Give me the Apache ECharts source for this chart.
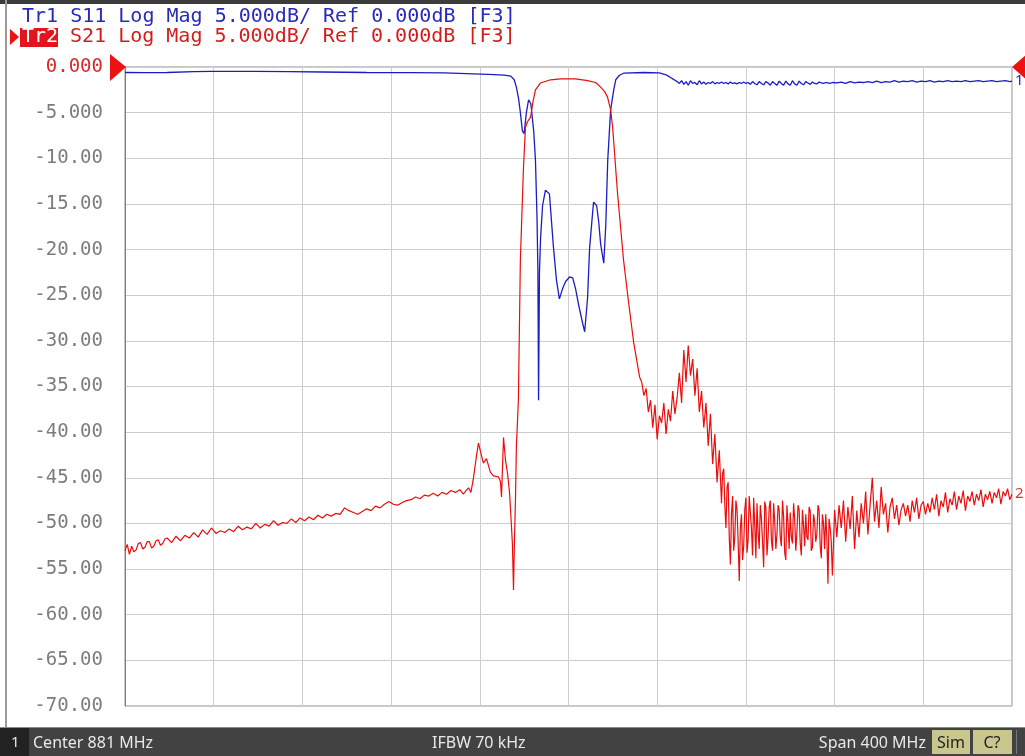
<!DOCTYPE html>
<html>
<head>
<meta charset="utf-8">
<script src="https://cdn.jsdelivr.net/npm/echarts@6/dist/echarts.min.js"></script>
<style>
html,body{margin:0;padding:0;background:#fff;}
#chart{width:1025px;height:756px;}
</style>
</head>
<body>
<div id="chart"></div>
<script>
// ---- Data (frequency MHz, magnitude dB) ----
const centerMHz = 881;
const spanMHz = 400;
const yTicks = [0,-5,-10,-15,-20,-25,-30,-35,-40,-45,-50,-55,-60,-65,-70];

const s11 = [
[681,-0.6],[690,-0.62],[700,-0.6],[712,-0.5],[720,-0.48],[740,-0.47],[755,-0.5],[770,-0.55],[790,-0.6],[810,-0.62],
[825,-0.65],[835,-0.72],[845,-0.8],[852,-0.9],[855,-1.0],[856.5,-1.4],[857.5,-2.2],[858.5,-3.5],[859.3,-5.0],[860.2,-7.0],
[861,-7.3],[862,-5.0],[863,-3.6],[864,-4.0],[865.3,-7.0],[866.1,-10.2],[866.8,-16.5],[867.2,-22.2],[867.5,-36.5],[867.9,-22.5],
[868.4,-18.8],[869.3,-15.2],[870.6,-13.5],[871.5,-13.3],[872.4,-13.9],[874.2,-19.7],[875.6,-23.4],[876.9,-25.4],[878.3,-24.3],[879.7,-23.5],
[881.5,-23.0],[882.9,-23.1],[884.2,-24.3],[885.6,-26.1],[887.4,-28.1],[888.3,-29.0],[889.6,-25.3],[890.5,-19.9],[891.9,-15.9],[892.3,-14.8],
[893.7,-15.2],[894.6,-16.9],[895.5,-19.4],[896.9,-21.5],[897.8,-17.4],[898.7,-10.2],[900,-4.7],[901.4,-2.5],[902.3,-1.4],[904,-0.9],
[906,-0.66],[915,-0.6],[922,-0.65],[925,-0.85],[926,-1.0],[927,-1.15],[928,-1.3],[929,-1.45],
[930,-1.6],[931,-1.8],[932,-1.5],[933,-1.9],[934,-1.6],[935,-2.0],[936,-1.5],[937,-1.8],[938,-1.7],[939,-1.95],
[940,-1.5],[941,-1.85],[942,-1.65],[943,-1.9],[944,-1.7],[945,-1.8],[946,-1.6],[947,-1.85],[948,-1.7],[949,-1.8],
[950,-1.65],[951,-1.8],[952,-1.7],[953,-1.85],[954,-1.65],[955,-1.8],[956,-1.75],[957,-1.85],[958,-1.7],[959,-1.8],
[960,-1.65],[961,-1.8],[962,-1.7],[963,-1.9],[964,-1.6],[965,-1.8],[966,-1.95],[967,-1.6],[968,-1.8],[969,-1.95],
[970,-1.6],[971,-1.75],[972,-2.0],[973,-1.6],[974,-1.8],[975,-2.0],[976,-1.55],[977,-1.8],[978,-2.0],[979,-1.55],
[980,-1.85],[981,-2.0],[982,-1.5],[983,-1.85],[984,-2.0],[985,-1.55],[986,-1.8],[987,-1.95],[988,-1.6],[989,-1.75],
[990,-1.9],[991,-1.65],[992,-1.8],[993,-1.85],[994,-1.65],[995,-1.75],[996,-1.8],[997,-1.7],[998,-1.75],[999,-1.8],
[1000,-1.7],[1002,-1.75],[1004,-1.65],[1006,-1.8],[1008,-1.6],[1010,-1.75],[1012,-1.65],[1014,-1.7],[1016,-1.6],[1018,-1.7],
[1020,-1.55],[1022,-1.7],[1024,-1.6],[1026,-1.65],[1028,-1.5],[1030,-1.65],[1032,-1.55],[1034,-1.6],[1036,-1.5],[1038,-1.65],
[1040,-1.55],[1042,-1.6],[1044,-1.5],[1046,-1.65],[1048,-1.55],[1050,-1.6],[1052,-1.5],[1054,-1.6],[1056,-1.55],[1058,-1.6],
[1060,-1.5],[1062,-1.6],[1064,-1.55],[1066,-1.5],[1068,-1.6],[1070,-1.55],[1072,-1.5],[1074,-1.6],[1076,-1.55],[1078,-1.5],
[1080,-1.6],[1081,-1.55]
];

const s21 = [
[681,-53.0],[682,-52.3],[683,-53.4],[684,-52.5],[685,-53.1],[686,-52.9],[687,-52.2],[688,-52.1],[689,-52.8],[690,-52.6],
[691,-52.0],[692,-52.0],[693,-52.7],[694,-52.5],[695,-51.9],[696,-51.8],[697,-52.4],[698,-52.2],[699,-51.7],[700,-51.6],
[702,-52.1],[704,-51.4],[706,-51.9],[708,-51.3],[710,-51.6],[712,-51.0],[714,-51.5],[716,-50.7],
[718,-51.2],[720,-50.5],[722,-51.1],[724,-50.8],[726,-51.0],[728,-50.6],[730,-50.9],[732,-50.3],[734,-50.7],[736,-50.4],
[738,-50.6],[740,-50.0],[742,-50.5],[744,-50.1],[746,-50.3],[748,-49.7],[750,-50.2],[752,-49.9],[754,-50.0],[756,-49.5],
[758,-49.9],[760,-49.4],[762,-49.7],[764,-49.3],[766,-49.6],[768,-49.1],[770,-49.4],[772,-49.0],[774,-49.2],[776,-48.9],
[778,-49.0],[780,-48.3],[782,-48.6],[784,-48.8],[786,-49.0],[788,-48.7],[790,-48.4],[792,-48.6],[794,-48.1],[796,-48.3],
[798,-47.9],[800,-47.6],[802,-47.9],[804,-48.0],[806,-47.7],[808,-47.5],[810,-47.4],[812,-47.1],[814,-47.3],[816,-46.9],
[818,-47.0],[820,-46.7],[822,-47.0],[824,-46.6],[826,-46.8],[828,-46.4],[830,-46.6],[832,-46.3],[833.6,-46.8],[834.5,-46.5],
[835.9,-46.1],[837,-46.6],[838.1,-45.1],[839.5,-42.6],[840.4,-41.2],[841.3,-42.1],[842.6,-43.4],[844,-42.9],[845.8,-44.4],[847.2,-44.8],
[849.4,-44.9],[850.3,-45.4],[850.8,-47.1],[851.2,-44.1],[851.7,-40.6],[852.6,-43.1],[853.5,-44.5],[854.4,-46.6],[854.8,-48.2],[855.7,-52.2],
[856.2,-57.3],[856.6,-52.2],[857.1,-47.2],[857.5,-41.6],[858.4,-36.5],[859.3,-21.1],[860.7,-11.0],[861.6,-6.6],[862.5,-6.0],[863.9,-5.5],
[865,-3.8],[866.1,-2.5],[868.4,-1.75],[872.9,-1.4],[877.4,-1.3],[884.2,-1.3],[889.6,-1.5],[893.2,-1.7],[895.5,-2.2],[897.3,-2.7],
[898.6,-3.3],[900,-4.7],[900.9,-6.6],[903.1,-13.8],[905.8,-21.1],[908.1,-25.8],[910.4,-30.2],[913.1,-34.0],
[914,-34.5],[915,-36.0],[916,-35.2],[917,-37.8],[918,-36.5],[919,-39.5],[920,-37.0],[921,-40.8],[922,-38.2],[923,-39.0],
[924,-36.8],[925,-40.2],[926,-37.5],[927,-38.8],[928,-35.5],[929,-38.0],[930,-36.2],[931,-33.5],[932,-36.8],[933,-31.0],
[934,-34.5],[935,-30.5],[936,-33.8],[937,-32.0],[938,-36.0],[939,-33.0],[940,-37.8],[941,-35.5],[942,-39.5],[943,-36.8],
[944,-41.5],[945,-38.0],[946,-43.5],[947,-40.2],[948,-45.5],[949,-42.0],[950,-47.8],[950.5,-44.5],[951,-44.0],[951.5,-48.0],
[952,-50.5],[952.5,-46.0],[953,-45.5],[953.5,-51.5],[954,-54.5],[954.5,-49.0],[955,-47.0],[955.5,-53.0],[956,-51.5],[956.5,-47.5],
[957,-48.5],[957.5,-52.0],[958,-56.3],[958.5,-50.5],[959,-49.0],[959.5,-54.0],[960,-52.5],[960.5,-48.5],[961,-47.2],[961.5,-53.2],
[962,-51.8],[962.5,-47.0],[963,-48.8],[963.5,-50.5],[964,-53.5],[964.5,-47.2],[965,-50.2],[965.5,-53.8],[966,-47.8],[966.5,-51.0],
[967,-52.8],[967.5,-48.0],[968,-49.5],[968.5,-52.0],[969,-54.8],[969.5,-47.6],[970,-48.2],[970.5,-53.5],[971,-51.5],[971.5,-48.2],
[972,-47.5],[972.5,-51.8],[973,-53.0],[973.5,-47.8],[974,-49.8],[974.5,-52.8],[975,-51.2],[975.5,-48.0],[976,-48.5],[976.5,-51.5],
[977,-52.5],[977.5,-47.5],[978,-49.2],[978.5,-53.2],[979,-54.0],[979.5,-48.0],[980,-50.0],[980.5,-52.8],[981,-48.8],[981.5,-51.5],
[982,-52.2],[982.5,-47.8],[983,-49.5],[983.5,-53.0],[984,-51.0],[984.5,-48.0],[985,-48.5],[985.5,-52.2],[986,-53.5],[986.5,-48.5],
[987,-50.2],[987.5,-52.5],[988,-49.0],[988.5,-51.5],[989,-51.8],[989.5,-48.2],[990,-48.6],[990.5,-53.0],[991,-52.6],[991.5,-49.0],
[992,-49.8],[992.5,-52.0],[993,-51.2],[993.5,-48.0],[994,-48.5],[994.5,-52.5],[995,-53.8],[995.5,-49.0],[996,-50.0],[996.5,-52.8],
[997,-49.0],[997.5,-51.5],[998,-56.6],[998.5,-49.5],[999,-50.5],[999.5,-52.0],[1000,-55.7],[1001,-48.5],[1002,-51.5],[1003,-48.0],
[1004,-50.5],[1005,-47.5],[1006,-52.0],[1007,-48.2],[1008,-50.6],[1009,-47.0],[1010,-52.8],[1011,-48.6],[1012,-51.5],[1013,-47.8],
[1014,-50.0],[1015,-46.5],[1016,-51.2],[1017,-48.0],[1018,-45.0],[1019,-49.8],[1020,-47.5],[1021,-50.5],[1022,-46.0],[1023,-49.0],
[1024,-47.8],[1025,-51.0],[1026,-48.2],[1027,-47.2],[1028,-49.5],[1029,-48.0],[1030,-50.2],[1031,-48.5],[1032,-47.8],[1033,-49.2],
[1034,-48.0],[1035,-49.8],[1036,-47.5],[1037,-48.8],[1038,-47.2],[1039,-49.5],[1040,-48.0],[1041,-47.6],[1042,-49.0],[1043,-47.8],
[1044,-48.8],[1045,-47.2],[1046,-48.5],[1047,-46.8],[1048,-49.2],[1049,-47.5],[1050,-48.2],[1051,-46.6],[1052,-48.8],[1053,-47.3],
[1054,-48.0],[1055,-46.5],[1056,-48.5],[1057,-47.0],[1058,-47.8],[1059,-46.4],[1060,-48.6],[1061,-47.0],[1062,-47.6],[1063,-46.5],
[1064,-48.0],[1065,-46.8],[1066,-47.5],[1067,-46.3],[1068,-48.2],[1069,-46.8],[1070,-47.4],[1071,-46.5],[1072,-47.8],[1073,-46.6],
[1074,-47.2],[1075,-46.2],[1076,-47.9],[1077,-46.5],[1078,-47.0],[1079,-46.2],[1080,-47.4],[1081,-46.8]
];

const headerTr1 = 'Tr1 S11 Log Mag 5.000dB/ Ref 0.000dB [F3]';
const headerTr2Tag = 'Tr2';
const headerTr2 = 'S21 Log Mag 5.000dB/ Ref 0.000dB [F3]';
const statusCenter = 'Center 881 MHz';
const statusIfbw = 'IFBW 70 kHz';
const statusSpan = 'Span 400 MHz';

// ---- Chart ----
const half = spanMHz / 2;
const toOffset = arr => arr.map(p => [p[0] - centerMHz, p[1]]);
const mono = '"DejaVu Sans Mono", monospace';
const sans = '"Noto Sans", "DejaVu Sans", sans-serif';

function fmtY(v) {
  const n = Number(v);
  if (!yTicks.includes(n)) return '';
  if (n === 0) return '{ref|0.000}';
  if (Math.abs(n) < 10) return '{g|' + n.toFixed(3) + '}';
  return '{g|' + n.toFixed(2) + '}';
}

const chart = echarts.init(document.getElementById('chart'), null, {renderer: 'canvas'});
chart.setOption({
  animation: false,
  backgroundColor: '#ffffff',
  grid: {left: 125, top: 67, width: 887, height: 639, show: true, borderColor: '#8c8c8c', borderWidth: 1, backgroundColor: '#ffffff'},
  xAxis: {
    type: 'value', min: -half, max: half, interval: 40,
    axisLine: {show: false}, axisTick: {show: false}, axisLabel: {show: false},
    splitLine: {show: true, lineStyle: {color: '#cdcdcd', width: 1}}
  },
  yAxis: {
    type: 'value', min: -70, max: 0, interval: 5,
    axisLine: {show: true, onZero: false, lineStyle: {color: '#808080', width: 1}},
    axisTick: {show: false},
    axisLabel: {
      margin: 22, fontFamily: mono, fontSize: 19,
      formatter: fmtY,
      rich: {
        ref: {color: '#d42a2a', fontFamily: mono, fontSize: 19},
        g: {color: '#7c7c7c', fontFamily: mono, fontSize: 19}
      }
    },
    splitLine: {show: true, lineStyle: {color: '#cdcdcd', width: 1}}
  },
  series: [
    {
      name: 'S11', type: 'line', data: toOffset(s11), showSymbol: false, symbol: 'none',
      lineStyle: {color: '#1c1cc4', width: 1.3}, z: 3,
      endLabel: {show: true, formatter: '1', color: '#2a2ac4', fontFamily: sans, fontSize: 15, distance: 3}
    },
    {
      name: 'S21', type: 'line', data: toOffset(s21), showSymbol: false, symbol: 'none',
      lineStyle: {color: '#ec0c0c', width: 1.2}, z: 4,
      endLabel: {show: true, formatter: '2', color: '#e03030', fontFamily: sans, fontSize: 15, distance: 3}
    }
  ],
  graphic: [
    {type: 'rect', shape: {x: 0, y: 0, width: 1025, height: 4}, style: {fill: '#3c3c3c'}, silent: true},
    {type: 'rect', shape: {x: 5, y: 0, width: 2, height: 728}, style: {fill: '#9a9a9a'}, silent: true},
    {type: 'text', x: 22, y: 17, style: {text: headerTr1, fill: '#2a2ab8', font: '20px ' + mono, verticalAlign: 'middle'}, silent: true},
    {type: 'rect', shape: {x: 20, y: 28, width: 38, height: 19}, style: {fill: '#e4141c'}, silent: true},
    {type: 'text', x: 22, y: 37, style: {text: headerTr2Tag, fill: '#ffffff', font: '20px ' + mono, verticalAlign: 'middle'}, silent: true},
    {type: 'text', x: 70, y: 37, style: {text: headerTr2, fill: '#d41c1c', font: '20px ' + mono, verticalAlign: 'middle'}, silent: true},
    {type: 'polygon', shape: {points: [[10, 29], [19, 37], [10, 45]]}, style: {fill: '#ee1111'}, silent: true},
    {type: 'polygon', shape: {points: [[110, 54], [126, 67], [110, 81]]}, style: {fill: '#ee1111'}, silent: true, z: 10},
    {type: 'polygon', shape: {points: [[1028, 53], [1012, 67], [1028, 81]]}, style: {fill: '#ee1111'}, silent: true, z: 10},
    {type: 'rect', shape: {x: 0, y: 727, width: 1025, height: 29}, style: {fill: '#424242'}, silent: true},
    {type: 'rect', shape: {x: 0, y: 727, width: 1025, height: 1}, style: {fill: '#8a8a8a'}, silent: true},
    {type: 'rect', shape: {x: 0, y: 728, width: 29, height: 28}, style: {fill: '#222222'}, silent: true},
    {type: 'text', x: 11, y: 743, style: {text: '1', fill: '#e8e8e8', font: '15px ' + sans, verticalAlign: 'middle'}, silent: true},
    {type: 'text', x: 33, y: 743, style: {text: statusCenter, fill: '#e8e8e8', font: '16px ' + sans, verticalAlign: 'middle'}, silent: true},
    {type: 'text', x: 432, y: 743, style: {text: statusIfbw, fill: '#e8e8e8', font: '16px ' + sans, verticalAlign: 'middle'}, silent: true},
    {type: 'text', x: 926, y: 743, style: {text: statusSpan, fill: '#e8e8e8', font: '16px ' + sans, verticalAlign: 'middle', align: 'right'}, silent: true},
    {type: 'rect', shape: {x: 932, y: 730, width: 38, height: 24}, style: {fill: '#c9c78e'}, silent: true},
    {type: 'text', x: 951, y: 743, style: {text: 'Sim', fill: '#1e1e1e', font: '16px ' + sans, verticalAlign: 'middle', align: 'center'}, silent: true},
    {type: 'rect', shape: {x: 973, y: 730, width: 39, height: 24}, style: {fill: '#c9c78e'}, silent: true},
    {type: 'text', x: 992, y: 743, style: {text: 'C?', fill: '#1e1e1e', font: '16px ' + sans, verticalAlign: 'middle', align: 'center'}, silent: true},
    {type: 'rect', shape: {x: 1016, y: 730, width: 1, height: 24}, style: {fill: '#777777'}, silent: true}
  ]
});
</script>
</body>
</html>
